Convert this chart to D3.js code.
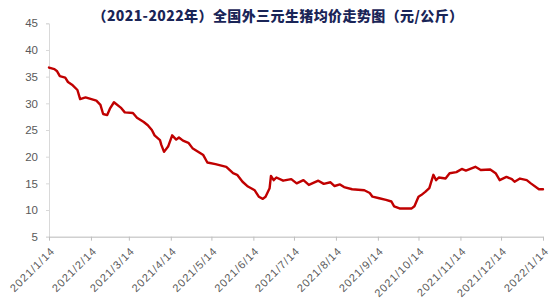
<!DOCTYPE html>
<html>
<head>
<meta charset="utf-8">
<script src="https://cdn.jsdelivr.net/npm/d3@7"></script>
<style>
  html, body { margin: 0; padding: 0; background: #fff; }
  svg { display: block; }
</style>
</head>
<body>
<svg id="chart" width="550" height="308"></svg>
<script>
const title = "（2021-2022年）全国外三元生猪均价走势图（元/公斤）";

const dates = [
  "2021-01-14","2021-01-18","2021-01-20","2021-01-22","2021-01-26","2021-01-28","2021-01-31",
  "2021-02-04","2021-02-06","2021-02-10","2021-02-18","2021-02-21","2021-02-23","2021-02-26",
  "2021-02-28","2021-03-03","2021-03-08","2021-03-11","2021-03-17","2021-03-20","2021-03-25",
  "2021-03-28","2021-03-31","2021-04-02","2021-04-06","2021-04-07","2021-04-09","2021-04-12",
  "2021-04-15","2021-04-18","2021-04-20","2021-04-23","2021-04-27","2021-04-30","2021-05-08",
  "2021-05-11","2021-05-17","2021-05-25","2021-05-30","2021-06-02","2021-06-06","2021-06-10",
  "2021-06-15","2021-06-18","2021-06-21","2021-06-23","2021-06-26","2021-06-27","2021-06-29",
  "2021-07-01","2021-07-06","2021-07-12","2021-07-16","2021-07-21","2021-07-25","2021-08-01",
  "2021-08-05","2021-08-10","2021-08-13","2021-08-17","2021-08-20","2021-08-26","2021-09-04",
  "2021-09-08","2021-09-10","2021-09-15","2021-09-20","2021-09-24","2021-09-26","2021-09-30",
  "2021-10-09","2021-10-11","2021-10-14","2021-10-16","2021-10-19","2021-10-22","2021-10-25",
  "2021-10-27","2021-10-29","2021-11-03","2021-11-06","2021-11-11","2021-11-15","2021-11-18",
  "2021-11-25","2021-11-29","2021-12-06","2021-12-10","2021-12-13","2021-12-18","2021-12-22",
  "2021-12-24","2021-12-28","2022-01-02","2022-01-05","2022-01-11","2022-01-14"
];
const prices = [
  36.7,36.4,36.0,35.1,34.8,34.0,33.5,
  32.5,30.8,31.1,30.5,29.7,28.0,27.8,
  29.0,30.2,29.2,28.3,28.2,27.3,26.5,
  25.9,25.0,24.0,23.1,22.2,20.9,21.9,
  24.0,23.2,23.6,23.0,22.6,21.6,20.3,
  18.9,18.6,18.1,16.9,16.6,15.3,14.4,
  13.7,12.5,12.1,12.5,14.1,16.4,15.6,
  16.1,15.5,15.8,15.0,15.6,14.7,15.5,
  14.9,15.2,14.5,14.8,14.3,13.9,13.7,
  13.2,12.5,12.2,11.9,11.6,10.7,10.3,
  10.3,10.7,12.5,12.8,13.4,14.1,16.6,
  15.6,16.1,15.9,16.9,17.1,17.7,17.4,
  18.1,17.5,17.6,16.9,15.6,16.2,15.8,
  15.3,15.9,15.6,15.0,13.9,13.9
];

const yTicks = [5,10,15,20,25,30,35,40,45];
const xTickDates = ["2021-01-14","2021-02-14","2021-03-14","2021-04-14","2021-05-14","2021-06-14",
  "2021-07-14","2021-08-14","2021-09-14","2021-10-14","2021-11-14","2021-12-14","2022-01-14"];

const parse = d3.timeParse("%Y-%m-%d");
const fmt = d => `${d.getFullYear()}/${d.getMonth()+1}/${d.getDate()}`;
const data = dates.map((d, i) => ({ date: parse(d), value: prices[i] }));

const svg = d3.select("#chart");
const m = { left: 49, right: 543, top: 23.3, bottom: 236.7 };

const x = d3.scaleTime()
  .domain([parse("2021-01-14"), parse("2022-01-14")])
  .range([m.left, m.right]);
const y = d3.scaleLinear().domain([5, 45]).range([m.bottom, m.top]);

// Title
svg.append("text")
  .attr("x", 278).attr("y", 15)
  .attr("text-anchor", "middle")
  .attr("dominant-baseline", "central")
  .attr("font-family", "'Noto Sans CJK SC', sans-serif")
  .attr("font-weight", "900")
  .attr("font-size", 14)
  .attr("letter-spacing", "0.4px")
  .attr("fill", "#1a2557")
  .text(title);

// Y axis
const yAxis = d3.axisLeft(y).tickValues(yTicks).tickSize(3).tickPadding(8);
const gy = svg.append("g").attr("transform", `translate(${m.left},0)`).call(yAxis);
gy.select(".domain").attr("stroke", "#d9d9d9");
gy.selectAll(".tick line").attr("stroke", "#d9d9d9");
gy.selectAll(".tick text")
  .attr("font-family", "'Liberation Sans', Arial, sans-serif")
  .attr("font-size", 11.5)
  .attr("fill", "#595959");

// X axis
const xAxis = d3.axisBottom(x).tickValues(xTickDates.map(parse)).tickFormat(fmt).tickSize(4).tickSizeOuter(0);
const gx = svg.append("g").attr("transform", `translate(0,${m.bottom})`).call(xAxis);
gx.select(".domain").attr("stroke", "#d0d0d0").attr("stroke-width", 1.5);
gx.selectAll(".tick line").attr("stroke", "#bfbfbf");
gx.selectAll(".tick text")
  .attr("font-family", "'Liberation Sans', Arial, sans-serif")
  .attr("font-size", 11)
  .attr("letter-spacing", "1px")
  .attr("fill", "#595959")
  .attr("text-anchor", "end")
  .attr("dy", null)
  .attr("y", 0)
  .attr("transform", "translate(6,15) rotate(-45)");

// Line
const line = d3.line()
  .x(d => x(d.date))
  .y(d => y(d.value))
  .curve(d3.curveLinear);

svg.append("path")
  .datum(data)
  .attr("fill", "none")
  .attr("stroke", "#c00000")
  .attr("stroke-width", 2.4)
  .attr("stroke-linejoin", "round")
  .attr("stroke-linecap", "round")
  .attr("d", line);
</script>
</body>
</html>
